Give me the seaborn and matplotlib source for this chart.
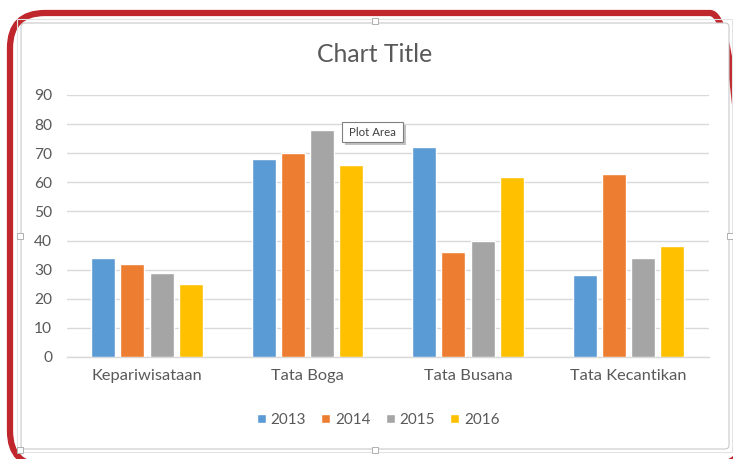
import matplotlib
matplotlib.use("Agg")
import matplotlib.pyplot as plt
from matplotlib.patches import FancyBboxPatch, Rectangle
from matplotlib.transforms import IdentityTransform
import pandas as pd
import seaborn as sns

# Enrolment by programme (study field) per year
categories = ["Kepariwisataan", "Tata Boga", "Tata Busana", "Tata Kecantikan"]
years = ["2013", "2014", "2015", "2016"]
values_2013 = [34, 68, 72, 28]
values_2014 = [32, 70, 36, 63]
values_2015 = [29, 78, 40, 34]
values_2016 = [25, 66, 62, 38]
y_ticks = [0, 10, 20, 30, 40, 50, 60, 70, 80, 90]
colors = ["#5B9BD5", "#ED7D31", "#A5A5A5", "#FFC000"]

series = [values_2013, values_2014, values_2015, values_2016]
df = pd.DataFrame(
    [(c, y, v) for y, vals in zip(years, series) for c, v in zip(categories, vals)],
    columns=["category", "year", "value"],
)

sns.set_theme(style="white")
plt.rcParams["font.family"] = ["Lato", "DejaVu Sans"]
TEXT = "#595959"
GRID = "#D9D9D9"

W, H = 733, 459
fig = plt.figure(figsize=(W / 100, H / 100), dpi=100)
fig.patch.set_facecolor("white")
ident = IdentityTransform()


def box(x, y, w, h):
    """Top-left pixel box -> bottom-left display origin."""
    return (x, H - y - h), w, h


# outer red highlight
(bx, by), bw, bh = box(10, 13, 735, 453)
fig.add_artist(FancyBboxPatch((bx, by), bw, bh, boxstyle="round,pad=0,rounding_size=35",
                              transform=ident, fill=False, edgecolor="#C0272D",
                              linewidth=4.5, zorder=-3))
# chart frame
(bx, by), bw, bh = box(17, 19, 715, 433)
fig.add_artist(Rectangle((bx, by), bw, bh, transform=ident, fill=False,
                         edgecolor="#E3E3E3", linewidth=0.8, zorder=-2))
(bx, by), bw, bh = box(21, 23, 708, 426)
fig.add_artist(FancyBboxPatch((bx, by), bw, bh, boxstyle="round,pad=0,rounding_size=4",
                              transform=ident, facecolor="white", edgecolor="#C8C8C8",
                              linewidth=0.8, zorder=-1))
# selection handles
for hx, hy in [(375, 21), (20, 236), (730, 236), (375, 450), (20, 450)]:
    (bx, by), bw, bh = box(hx - 3, hy - 3, 6, 6)
    fig.add_artist(Rectangle((bx, by), bw, bh, transform=ident, facecolor="white",
                             edgecolor="#B0B0B0", linewidth=0.7, zorder=5))

ax = fig.add_axes([66.75 / W, (H - 357) / H, 642 / W, 262 / H])
ax.set_facecolor("none")

sns.barplot(data=df, x="category", y="value", hue="year", hue_order=years,
            palette=colors, width=0.73, gap=0.18, saturation=1, ax=ax, zorder=3)

ax.set_ylim(0, 90)
ax.set_xlim(-0.5, 3.5)
ax.set_yticks(y_ticks)
ax.yaxis.grid(True, color=GRID, linewidth=1.0, zorder=0)
ax.set_axisbelow(True)
for s in ["top", "right", "left"]:
    ax.spines[s].set_visible(False)
ax.spines["bottom"].set_color(GRID)
ax.spines["bottom"].set_linewidth(1.0)
ax.tick_params(axis="y", length=0, pad=10.5, labelsize=11.2, labelcolor=TEXT)
ax.tick_params(axis="x", length=0, pad=8.5, labelsize=11.8, labelcolor=TEXT)
ax.set_xlabel("")
ax.set_ylabel("")

fig.text(375 / W, (H - 55) / H, "Chart Title", ha="center", va="center",
         fontsize=17.8, color=TEXT)

handles, labels = ax.get_legend_handles_labels()
ax.legend_.remove()
fig.legend(handles, labels, loc="center", bbox_to_anchor=(378 / W, (H - 420) / H),
           ncol=4, frameon=False, fontsize=11, labelcolor=TEXT,
           handlelength=0.6, handleheight=0.6, handletextpad=0.3, columnspacing=1.0)

# hover tooltip with drop shadow
(bx, by), bw, bh = box(345, 125, 61, 20)
fig.add_artist(Rectangle((bx, by), bw, bh, transform=ident, facecolor="#A8A8A8",
                         edgecolor="none", alpha=0.7, zorder=6))
(bx, by), bw, bh = box(342, 122, 61, 20)
fig.add_artist(Rectangle((bx, by), bw, bh, transform=ident, facecolor="white",
                         edgecolor="#808080", linewidth=0.8, zorder=7))
fig.text(372.5 / W, (H - 132) / H, "Plot Area", ha="center", va="center", fontsize=8.3,
         color="#404040", zorder=8)

fig.savefig("out.png", dpi=100, facecolor="white")
